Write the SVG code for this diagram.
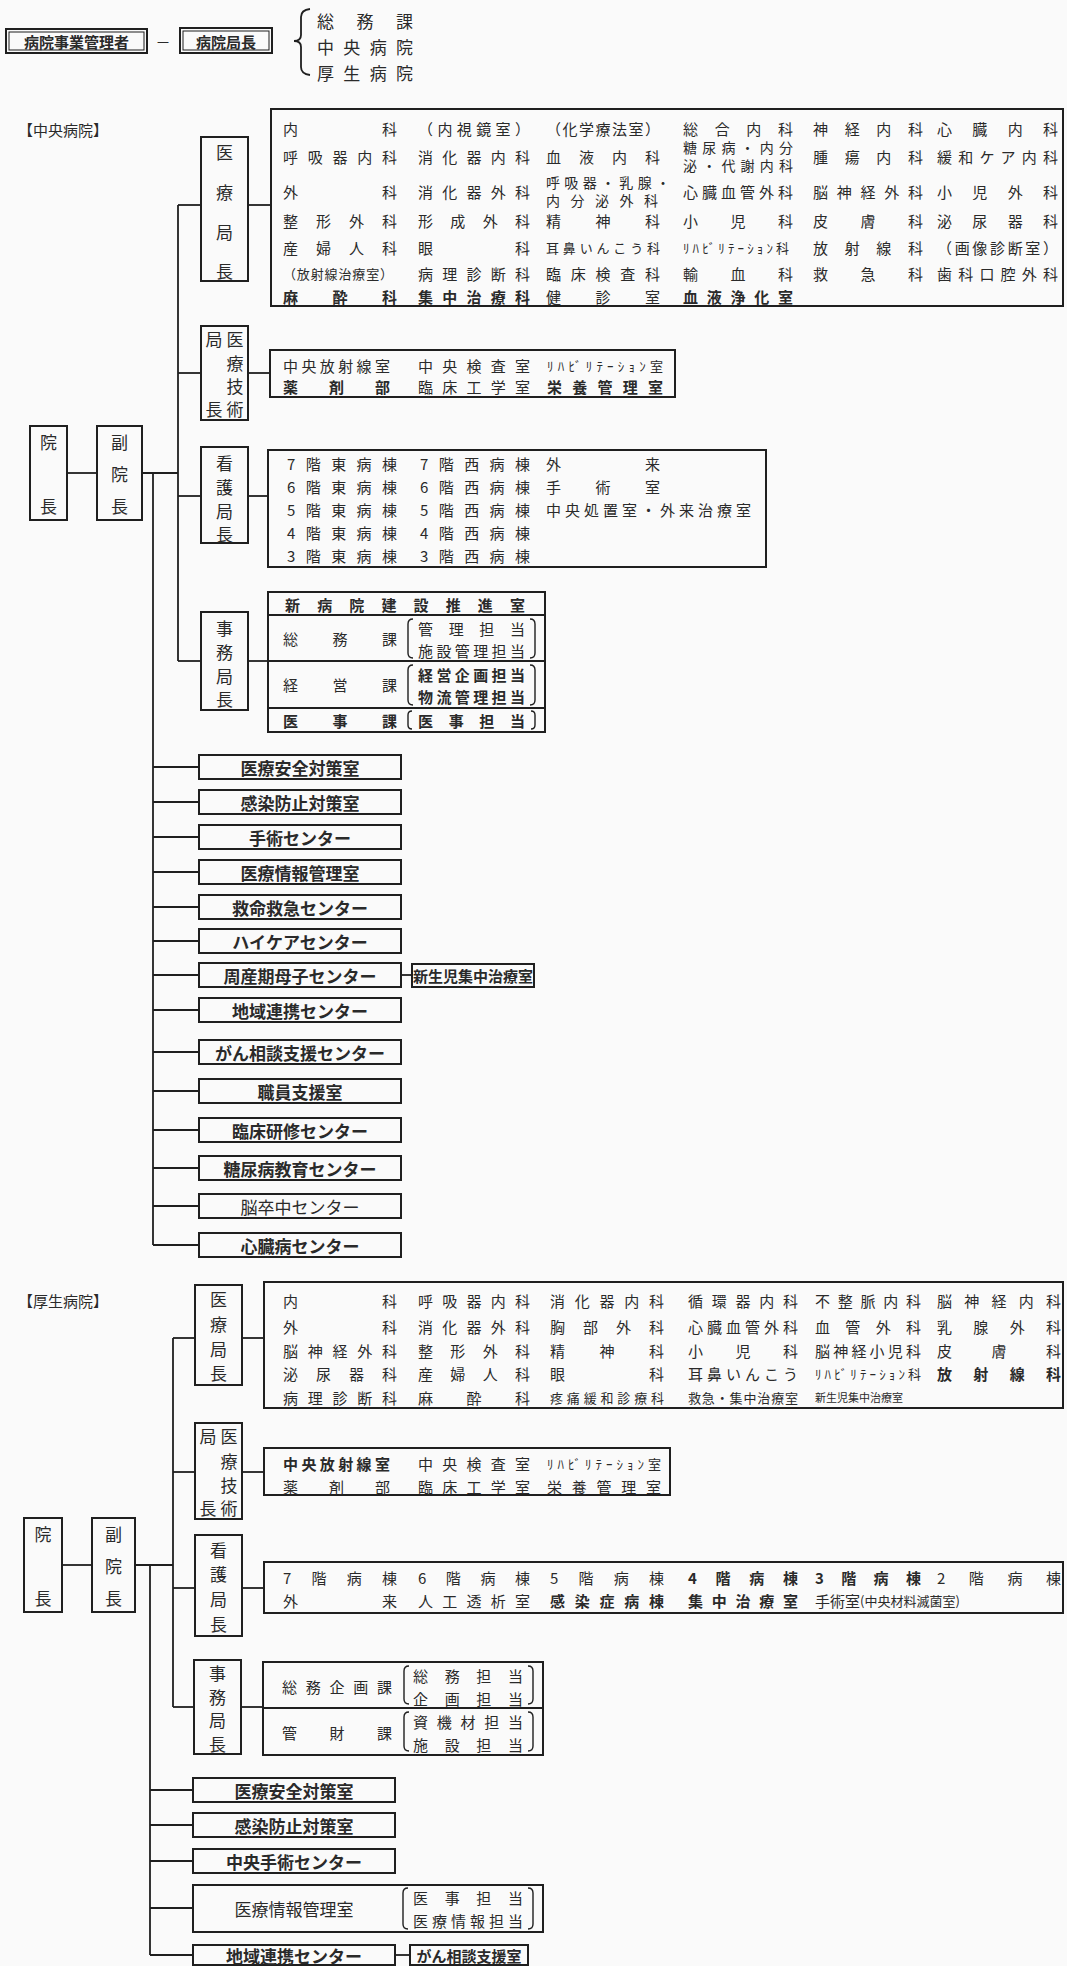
<svg xmlns="http://www.w3.org/2000/svg" width="1067" height="1966" viewBox="0 0 1067 1966">
<style>
.bx{fill:none;stroke:#1f1f1f;stroke-width:2}
.in{fill:none;stroke:#1f1f1f;stroke-width:1}
.ln{fill:none;stroke:#1f1f1f;stroke-width:1.8}
.br{fill:none;stroke:#1f1f1f;stroke-width:1.4}
text{font-family:"Noto Sans CJK JP","Noto Sans CJK SC",sans-serif;font-size:15px;fill:#2a2a2a;dominant-baseline:central}
.v{font-size:17px;text-anchor:middle}
.m{text-anchor:middle}
.s{font-size:13px}
.s14{font-size:14px}
.xs{font-size:11px}
.bd{font-weight:bold}
.L{font-size:17px;text-anchor:middle;font-weight:bold}
.h{font-size:17px}
</style>
<rect x="0" y="0" width="1067" height="1966" fill="#fafafa"/>

<!-- header -->
<g id="hdr-kanrisha">
<rect class="bx" x="6" y="29" width="141" height="24"/>
<rect class="in" x="9" y="32" width="135" height="18"/>
<text class="m bd" x="76.5" y="41" font-size="17">病院事業管理者</text>
</g>
<text class="m" x="163" y="41">－</text>
<g id="hdr-kyokucho">
<rect class="bx" x="180" y="28" width="92" height="25"/>
<rect class="in" x="183" y="31" width="86" height="19"/>
<text class="m bd" x="226" y="41" font-size="17">病院局長</text>
</g>
<g id="hdr-list">
<path class="ln" d="M310,9 Q301,10 301,17 L301,35 Q301,41 294,41 Q301,41 301,47 L301,67 Q301,74 310,75"/>
<text class="h" x="317" y="20" textLength="96" lengthAdjust="spacing">総務課</text>
<text class="h" x="317" y="46" textLength="96" lengthAdjust="spacing">中央病院</text>
<text class="h" x="317" y="72" textLength="96" lengthAdjust="spacing">厚生病院</text>
</g>

<!-- ============ 中央病院 ============ -->
<text x="18" y="129" font-size="16">【中央病院】</text>

<g id="connectors-chuo">
<line class="ln" x1="67" y1="473" x2="97" y2="473"/>
<line class="ln" x1="142" y1="473" x2="178" y2="473"/>
<line class="ln" x1="178" y1="205" x2="178" y2="661"/>
<line class="ln" x1="153" y1="473" x2="153" y2="1245"/>
<line class="ln" x1="178" y1="205" x2="201" y2="205"/>
<line class="ln" x1="248" y1="205" x2="271" y2="205"/>
<line class="ln" x1="178" y1="373" x2="201" y2="373"/>
<line class="ln" x1="248" y1="373" x2="270" y2="373"/>
<line class="ln" x1="178" y1="496" x2="201" y2="496"/>
<line class="ln" x1="248" y1="496" x2="268" y2="496"/>
<line class="ln" x1="178" y1="661" x2="201" y2="661"/>
<line class="ln" x1="248" y1="661" x2="268" y2="661"/>
<line class="ln" x1="153" y1="767" x2="199" y2="767"/>
<line class="ln" x1="153" y1="802" x2="199" y2="802"/>
<line class="ln" x1="153" y1="837" x2="199" y2="837"/>
<line class="ln" x1="153" y1="872" x2="199" y2="872"/>
<line class="ln" x1="153" y1="907" x2="199" y2="907"/>
<line class="ln" x1="153" y1="941" x2="199" y2="941"/>
<line class="ln" x1="153" y1="975" x2="199" y2="975"/>
<line class="ln" x1="401" y1="975" x2="412" y2="975"/>
<line class="ln" x1="153" y1="1010" x2="199" y2="1010"/>
<line class="ln" x1="153" y1="1052" x2="199" y2="1052"/>
<line class="ln" x1="153" y1="1091" x2="199" y2="1091"/>
<line class="ln" x1="153" y1="1130" x2="199" y2="1130"/>
<line class="ln" x1="153" y1="1168" x2="199" y2="1168"/>
<line class="ln" x1="153" y1="1206" x2="199" y2="1206"/>
<line class="ln" x1="153" y1="1245" x2="199" y2="1245"/>
</g>

<g id="c-incho">
<rect class="bx" x="30" y="426" width="37" height="94"/>
<text class="v" x="48.5" y="441">院</text>
<text class="v" x="48.5" y="505">長</text>
</g>
<g id="c-fukuincho">
<rect class="bx" x="97" y="426" width="45" height="94"/>
<text class="v" x="119.5" y="441">副</text>
<text class="v" x="119.5" y="473">院</text>
<text class="v" x="119.5" y="505">長</text>
</g>

<g id="c-iryokyokucho">
<rect class="bx" x="201" y="137" width="47" height="144"/>
<text class="v" x="224.5" y="151">医</text>
<text class="v" x="224.5" y="191">療</text>
<text class="v" x="224.5" y="231">局</text>
<text class="v" x="224.5" y="270">長</text>
</g>
<g id="c-iryo-grid">
<rect class="bx" x="271" y="109" width="792" height="197"/>
<text x="283" y="128" textLength="114" lengthAdjust="spacing">内科</text>
<text x="418" y="128" textLength="112" lengthAdjust="spacing">（内視鏡室）</text>
<text x="546" y="128" textLength="114" lengthAdjust="spacing">（化学療法室）</text>
<text x="683" y="128" textLength="110" lengthAdjust="spacing">総合内科</text>
<text x="813" y="128" textLength="110" lengthAdjust="spacing">神経内科</text>
<text x="937" y="128" textLength="121" lengthAdjust="spacing">心臓内科</text>

<text x="283" y="156" textLength="114" lengthAdjust="spacing">呼吸器内科</text>
<text x="418" y="156" textLength="112" lengthAdjust="spacing">消化器内科</text>
<text x="546" y="156" textLength="114" lengthAdjust="spacing">血液内科</text>
<text class="s14" x="683" y="147" textLength="110" lengthAdjust="spacing">糖尿病・内分</text>
<text class="s14" x="683" y="165" textLength="110" lengthAdjust="spacing">泌・代謝内科</text>
<text x="813" y="156" textLength="110" lengthAdjust="spacing">腫瘍内科</text>
<text x="937" y="156" textLength="121" lengthAdjust="spacing">緩和ケア内科</text>

<text x="283" y="191" textLength="114" lengthAdjust="spacing">外科</text>
<text x="418" y="191" textLength="112" lengthAdjust="spacing">消化器外科</text>
<text class="s14" x="546" y="182" textLength="124" lengthAdjust="spacing">呼吸器・乳腺・</text>
<text class="s14" x="546" y="200" textLength="112" lengthAdjust="spacing">内分泌外科</text>
<text x="683" y="191" textLength="110" lengthAdjust="spacing">心臓血管外科</text>
<text x="813" y="191" textLength="110" lengthAdjust="spacing">脳神経外科</text>
<text x="937" y="191" textLength="121" lengthAdjust="spacing">小児外科</text>

<text x="283" y="220" textLength="114" lengthAdjust="spacing">整形外科</text>
<text x="418" y="220" textLength="112" lengthAdjust="spacing">形成外科</text>
<text x="546" y="220" textLength="114" lengthAdjust="spacing">精神科</text>
<text x="683" y="220" textLength="110" lengthAdjust="spacing">小児科</text>
<text x="813" y="220" textLength="110" lengthAdjust="spacing">皮膚科</text>
<text x="937" y="220" textLength="121" lengthAdjust="spacing">泌尿器科</text>

<text x="283" y="247" textLength="114" lengthAdjust="spacing">産婦人科</text>
<text x="418" y="247" textLength="112" lengthAdjust="spacing">眼科</text>
<text class="s" x="546" y="247" textLength="114" lengthAdjust="spacing">耳鼻いんこう科</text>
<text class="s" x="683" y="247" textLength="106" lengthAdjust="spacing">ﾘﾊﾋﾞﾘﾃｰｼｮﾝ科</text>
<text x="813" y="247" textLength="110" lengthAdjust="spacing">放射線科</text>
<text x="937" y="247" textLength="121" lengthAdjust="spacing">（画像診断室）</text>

<text class="s" x="283" y="273" textLength="110" lengthAdjust="spacing">（放射線治療室）</text>
<text x="418" y="273" textLength="112" lengthAdjust="spacing">病理診断科</text>
<text x="546" y="273" textLength="114" lengthAdjust="spacing">臨床検査科</text>
<text x="683" y="273" textLength="110" lengthAdjust="spacing">輸血科</text>
<text x="813" y="273" textLength="110" lengthAdjust="spacing">救急科</text>
<text x="937" y="273" textLength="121" lengthAdjust="spacing">歯科口腔外科</text>

<text class="bd" x="283" y="296" textLength="114" lengthAdjust="spacing">麻酔科</text>
<text class="bd" x="418" y="296" textLength="112" lengthAdjust="spacing">集中治療科</text>
<text x="546" y="296" textLength="114" lengthAdjust="spacing">健診室</text>
<text class="bd" x="683" y="296" textLength="110" lengthAdjust="spacing">血液浄化室</text>
</g>

<g id="c-gijutsukyokucho">
<rect class="bx" x="201" y="326" width="47" height="94"/>
<text class="v" x="214" y="338">局</text>
<text class="v" x="235" y="338">医</text>
<text class="v" x="235" y="362">療</text>
<text class="v" x="235" y="385">技</text>
<text class="v" x="214" y="408">長</text>
<text class="v" x="235" y="408">術</text>
</g>
<g id="c-gijutsu-grid">
<rect class="bx" x="270" y="350" width="405" height="47"/>
<text x="283" y="365" textLength="107" lengthAdjust="spacing">中央放射線室</text>
<text x="418" y="365" textLength="112" lengthAdjust="spacing">中央検査室</text>
<text class="s" x="547" y="365" textLength="116" lengthAdjust="spacing">ﾘﾊﾋﾞﾘﾃｰｼｮﾝ室</text>
<text class="bd" x="283" y="386" textLength="107" lengthAdjust="spacing">薬剤部</text>
<text x="418" y="386" textLength="112" lengthAdjust="spacing">臨床工学室</text>
<text class="bd" x="547" y="386" textLength="116" lengthAdjust="spacing">栄養管理室</text>
</g>

<g id="c-kangokyokucho">
<rect class="bx" x="201" y="447" width="47" height="96"/>
<text class="v" x="224.5" y="462">看</text>
<text class="v" x="224.5" y="486">護</text>
<text class="v" x="224.5" y="510">局</text>
<text class="v" x="224.5" y="533">長</text>
</g>
<g id="c-kango-grid">
<rect class="bx" x="268" y="450" width="498" height="117"/>
<text x="287" y="463" textLength="110" lengthAdjust="spacing">7階東病棟</text>
<text x="420" y="463" textLength="110" lengthAdjust="spacing">7階西病棟</text>
<text x="546" y="463" textLength="114" lengthAdjust="spacing">外来</text>
<text x="287" y="486" textLength="110" lengthAdjust="spacing">6階東病棟</text>
<text x="420" y="486" textLength="110" lengthAdjust="spacing">6階西病棟</text>
<text x="546" y="486" textLength="114" lengthAdjust="spacing">手術室</text>
<text x="287" y="509" textLength="110" lengthAdjust="spacing">5階東病棟</text>
<text x="420" y="509" textLength="110" lengthAdjust="spacing">5階西病棟</text>
<text x="546" y="509" textLength="205" lengthAdjust="spacing">中央処置室・外来治療室</text>
<text x="287" y="532" textLength="110" lengthAdjust="spacing">4階東病棟</text>
<text x="420" y="532" textLength="110" lengthAdjust="spacing">4階西病棟</text>
<text x="287" y="555" textLength="110" lengthAdjust="spacing">3階東病棟</text>
<text x="420" y="555" textLength="110" lengthAdjust="spacing">3階西病棟</text>
</g>

<g id="c-jimukyokucho">
<rect class="bx" x="201" y="612" width="47" height="98"/>
<text class="v" x="224.5" y="627">事</text>
<text class="v" x="224.5" y="651">務</text>
<text class="v" x="224.5" y="675">局</text>
<text class="v" x="224.5" y="698">長</text>
</g>
<g id="c-jimu-grid">
<rect class="bx" x="268" y="592" width="277" height="140"/>
<line class="ln" x1="268" y1="615" x2="545" y2="615"/>
<line class="ln" x1="268" y1="661" x2="545" y2="661"/>
<line class="ln" x1="268" y1="708" x2="545" y2="708"/>
<text class="bd" x="285" y="604" textLength="240" lengthAdjust="spacing">新病院建設推進室</text>
<text x="283" y="638" textLength="114" lengthAdjust="spacing">総務課</text>
<path class="br" d="M413,619 Q408,619 408,624 L408,653 Q408,658 413,658"/>
<path class="br" d="M530,619 Q535,619 535,624 L535,653 Q535,658 530,658"/>
<text x="418" y="628" textLength="107" lengthAdjust="spacing">管理担当</text>
<text x="418" y="650" textLength="107" lengthAdjust="spacing">施設管理担当</text>
<text x="283" y="684" textLength="114" lengthAdjust="spacing">経営課</text>
<path class="br" d="M413,665 Q408,665 408,670 L408,700 Q408,705 413,705"/>
<path class="br" d="M530,665 Q535,665 535,670 L535,700 Q535,705 530,705"/>
<text class="bd" x="418" y="674" textLength="107" lengthAdjust="spacing">経営企画担当</text>
<text class="bd" x="418" y="696" textLength="107" lengthAdjust="spacing">物流管理担当</text>
<text class="bd" x="283" y="720" textLength="114" lengthAdjust="spacing">医事課</text>
<path class="br" d="M412,711 Q408,711 408,715 L408,725 Q408,729 412,729"/>
<path class="br" d="M531,711 Q535,711 535,715 L535,725 Q535,729 531,729"/>
<text class="bd" x="418" y="720" textLength="107" lengthAdjust="spacing">医事担当</text>
</g>

<g id="c-anzen"><rect class="bx" x="199" y="755" width="202" height="24"/><text class="L" x="300" y="767">医療安全対策室</text></g>
<g id="c-kansen"><rect class="bx" x="199" y="790" width="202" height="24"/><text class="L" x="300" y="802">感染防止対策室</text></g>
<g id="c-shujutsu"><rect class="bx" x="199" y="825" width="202" height="24"/><text class="L" x="300" y="837">手術センター</text></g>
<g id="c-joho"><rect class="bx" x="199" y="860" width="202" height="24"/><text class="L" x="300" y="872">医療情報管理室</text></g>
<g id="c-kyumei"><rect class="bx" x="199" y="895" width="202" height="24"/><text class="L" x="300" y="907">救命救急センター</text></g>
<g id="c-highcare"><rect class="bx" x="199" y="929" width="202" height="24"/><text class="L" x="300" y="941">ハイケアセンター</text></g>
<g id="c-shusanki"><rect class="bx" x="199" y="963" width="202" height="24"/><text class="L" x="300" y="975">周産期母子センター</text></g>
<g id="c-nicu"><rect class="bx" x="412" y="964" width="122" height="23"/><text class="bd m" x="473" y="975.5" font-size="11.5">新生児集中治療室</text></g>
<g id="c-chiiki"><rect class="bx" x="199" y="998" width="202" height="24"/><text class="L" x="300" y="1010">地域連携センター</text></g>
<g id="c-gan"><rect class="bx" x="199" y="1040" width="202" height="24"/><text class="L" x="300" y="1052">がん相談支援センター</text></g>
<g id="c-shokuin"><rect class="bx" x="199" y="1079" width="202" height="24"/><text class="L" x="300" y="1091">職員支援室</text></g>
<g id="c-rinsho"><rect class="bx" x="199" y="1118" width="202" height="24"/><text class="L" x="300" y="1130">臨床研修センター</text></g>
<g id="c-tonyo"><rect class="bx" x="199" y="1156" width="202" height="24"/><text class="L" x="300" y="1168">糖尿病教育センター</text></g>
<g id="c-nosotchu"><rect class="bx" x="199" y="1194" width="202" height="24"/><text class="v" x="300" y="1206">脳卒中センター</text></g>
<g id="c-shinzo"><rect class="bx" x="199" y="1233" width="202" height="24"/><text class="L" x="300" y="1245">心臓病センター</text></g>

<!-- ============ 厚生病院 ============ -->
<text x="18" y="1300" font-size="16">【厚生病院】</text>

<g id="connectors-kosei">
<line class="ln" x1="62" y1="1565" x2="92" y2="1565"/>
<line class="ln" x1="135" y1="1565" x2="173" y2="1565"/>
<line class="ln" x1="173" y1="1338" x2="173" y2="1707"/>
<line class="ln" x1="150" y1="1565" x2="150" y2="1955"/>
<line class="ln" x1="173" y1="1338" x2="195" y2="1338"/>
<line class="ln" x1="242" y1="1338" x2="264" y2="1338"/>
<line class="ln" x1="173" y1="1472" x2="195" y2="1472"/>
<line class="ln" x1="242" y1="1472" x2="264" y2="1472"/>
<line class="ln" x1="173" y1="1588" x2="195" y2="1588"/>
<line class="ln" x1="242" y1="1588" x2="264" y2="1588"/>
<line class="ln" x1="173" y1="1707" x2="194" y2="1707"/>
<line class="ln" x1="241" y1="1707" x2="263" y2="1707"/>
<line class="ln" x1="150" y1="1790" x2="193" y2="1790"/>
<line class="ln" x1="150" y1="1825" x2="193" y2="1825"/>
<line class="ln" x1="150" y1="1861" x2="193" y2="1861"/>
<line class="ln" x1="150" y1="1908" x2="193" y2="1908"/>
<line class="ln" x1="150" y1="1955" x2="193" y2="1955"/>
<line class="ln" x1="395" y1="1955" x2="410" y2="1955"/>
</g>

<g id="k-incho">
<rect class="bx" x="24" y="1518" width="38" height="94"/>
<text class="v" x="43" y="1533">院</text>
<text class="v" x="43" y="1597">長</text>
</g>
<g id="k-fukuincho">
<rect class="bx" x="92" y="1518" width="43" height="94"/>
<text class="v" x="113.5" y="1533">副</text>
<text class="v" x="113.5" y="1565">院</text>
<text class="v" x="113.5" y="1597">長</text>
</g>

<g id="k-iryokyokucho">
<rect class="bx" x="195" y="1285" width="47" height="100"/>
<text class="v" x="218.5" y="1298">医</text>
<text class="v" x="218.5" y="1323">療</text>
<text class="v" x="218.5" y="1348">局</text>
<text class="v" x="218.5" y="1372">長</text>
</g>
<g id="k-iryo-grid">
<rect class="bx" x="264" y="1282" width="799" height="126"/>
<text x="283" y="1300" textLength="114" lengthAdjust="spacing">内科</text>
<text x="418" y="1300" textLength="112" lengthAdjust="spacing">呼吸器内科</text>
<text x="550" y="1300" textLength="114" lengthAdjust="spacing">消化器内科</text>
<text x="688" y="1300" textLength="110" lengthAdjust="spacing">循環器内科</text>
<text x="815" y="1300" textLength="106" lengthAdjust="spacing">不整脈内科</text>
<text x="937" y="1300" textLength="124" lengthAdjust="spacing">脳神経内科</text>

<text x="283" y="1326" textLength="114" lengthAdjust="spacing">外科</text>
<text x="418" y="1326" textLength="112" lengthAdjust="spacing">消化器外科</text>
<text x="550" y="1326" textLength="114" lengthAdjust="spacing">胸部外科</text>
<text x="688" y="1326" textLength="110" lengthAdjust="spacing">心臓血管外科</text>
<text x="815" y="1326" textLength="106" lengthAdjust="spacing">血管外科</text>
<text x="937" y="1326" textLength="124" lengthAdjust="spacing">乳腺外科</text>

<text x="283" y="1350" textLength="114" lengthAdjust="spacing">脳神経外科</text>
<text x="418" y="1350" textLength="112" lengthAdjust="spacing">整形外科</text>
<text x="550" y="1350" textLength="114" lengthAdjust="spacing">精神科</text>
<text x="688" y="1350" textLength="110" lengthAdjust="spacing">小児科</text>
<text x="815" y="1350" textLength="106" lengthAdjust="spacing">脳神経小児科</text>
<text x="937" y="1350" textLength="124" lengthAdjust="spacing">皮膚科</text>

<text x="283" y="1373" textLength="114" lengthAdjust="spacing">泌尿器科</text>
<text x="418" y="1373" textLength="112" lengthAdjust="spacing">産婦人科</text>
<text x="550" y="1373" textLength="114" lengthAdjust="spacing">眼科</text>
<text x="688" y="1373" textLength="110" lengthAdjust="spacing">耳鼻いんこう</text>
<text class="s" x="815" y="1373" textLength="106" lengthAdjust="spacing">ﾘﾊﾋﾞﾘﾃｰｼｮﾝ科</text>
<text class="bd" x="937" y="1373" textLength="124" lengthAdjust="spacing">放射線科</text>

<text x="283" y="1397" textLength="114" lengthAdjust="spacing">病理診断科</text>
<text x="418" y="1397" textLength="112" lengthAdjust="spacing">麻酔科</text>
<text class="s" x="550" y="1397" textLength="114" lengthAdjust="spacing">疼痛緩和診療科</text>
<text class="s" x="688" y="1397" textLength="110" lengthAdjust="spacing">救急・集中治療室</text>
<text class="xs" x="815" y="1397">新生児集中治療室</text>
</g>

<g id="k-gijutsukyokucho">
<rect class="bx" x="195" y="1423" width="47" height="96"/>
<text class="v" x="208" y="1435">局</text>
<text class="v" x="229" y="1435">医</text>
<text class="v" x="229" y="1460">療</text>
<text class="v" x="229" y="1484">技</text>
<text class="v" x="208" y="1507">長</text>
<text class="v" x="229" y="1507">術</text>
</g>
<g id="k-gijutsu-grid">
<rect class="bx" x="264" y="1448" width="406" height="47"/>
<text class="bd" x="283" y="1463" textLength="107" lengthAdjust="spacing">中央放射線室</text>
<text x="418" y="1463" textLength="112" lengthAdjust="spacing">中央検査室</text>
<text class="s" x="547" y="1463" textLength="114" lengthAdjust="spacing">ﾘﾊﾋﾞﾘﾃｰｼｮﾝ室</text>
<text x="283" y="1486" textLength="107" lengthAdjust="spacing">薬剤部</text>
<text x="418" y="1486" textLength="112" lengthAdjust="spacing">臨床工学室</text>
<text x="547" y="1486" textLength="114" lengthAdjust="spacing">栄養管理室</text>
</g>

<g id="k-kangokyokucho">
<rect class="bx" x="195" y="1535" width="47" height="101"/>
<text class="v" x="218.5" y="1549">看</text>
<text class="v" x="218.5" y="1573">護</text>
<text class="v" x="218.5" y="1598">局</text>
<text class="v" x="218.5" y="1623">長</text>
</g>
<g id="k-kango-grid">
<rect class="bx" x="264" y="1562" width="799" height="51"/>
<text x="283" y="1577" textLength="114" lengthAdjust="spacing">7階病棟</text>
<text x="418" y="1577" textLength="112" lengthAdjust="spacing">6階病棟</text>
<text x="550" y="1577" textLength="114" lengthAdjust="spacing">5階病棟</text>
<text class="bd" x="688" y="1577" textLength="110" lengthAdjust="spacing">4階病棟</text>
<text class="bd" x="815" y="1577" textLength="106" lengthAdjust="spacing">3階病棟</text>
<text x="937" y="1577" textLength="124" lengthAdjust="spacing">2階病棟</text>
<text x="283" y="1600" textLength="114" lengthAdjust="spacing">外来</text>
<text x="418" y="1600" textLength="112" lengthAdjust="spacing">人工透析室</text>
<text class="bd" x="550" y="1600" textLength="114" lengthAdjust="spacing">感染症病棟</text>
<text class="bd" x="688" y="1600" textLength="110" lengthAdjust="spacing">集中治療室</text>
<text x="815" y="1600">手術室<tspan class="s">(中央材料滅菌室)</tspan></text>
</g>

<g id="k-jimukyokucho">
<rect class="bx" x="194" y="1660" width="47" height="94"/>
<text class="v" x="217.5" y="1672">事</text>
<text class="v" x="217.5" y="1696">務</text>
<text class="v" x="217.5" y="1719">局</text>
<text class="v" x="217.5" y="1743">長</text>
</g>
<g id="k-jimu-grid">
<rect class="bx" x="263" y="1662" width="280" height="93"/>
<line class="ln" x1="263" y1="1708" x2="543" y2="1708"/>
<text x="282" y="1686" textLength="110" lengthAdjust="spacing">総務企画課</text>
<path class="br" d="M409,1666 Q404,1666 404,1671 L404,1699 Q404,1704 409,1704"/>
<path class="br" d="M528,1666 Q533,1666 533,1671 L533,1699 Q533,1704 528,1704"/>
<text x="413" y="1675" textLength="110" lengthAdjust="spacing">総務担当</text>
<text x="413" y="1698" textLength="110" lengthAdjust="spacing">企画担当</text>
<text x="282" y="1732" textLength="110" lengthAdjust="spacing">管財課</text>
<path class="br" d="M409,1712 Q404,1712 404,1717 L404,1746 Q404,1751 409,1751"/>
<path class="br" d="M528,1712 Q533,1712 533,1717 L533,1746 Q533,1751 528,1751"/>
<text x="413" y="1721" textLength="110" lengthAdjust="spacing">資機材担当</text>
<text x="413" y="1744" textLength="110" lengthAdjust="spacing">施設担当</text>
</g>

<g id="k-anzen"><rect class="bx" x="193" y="1778" width="202" height="24"/><text class="L" x="294" y="1790">医療安全対策室</text></g>
<g id="k-kansen"><rect class="bx" x="193" y="1813" width="202" height="24"/><text class="L" x="294" y="1825">感染防止対策室</text></g>
<g id="k-shujutsu"><rect class="bx" x="193" y="1849" width="202" height="24"/><text class="L" x="294" y="1861">中央手術センター</text></g>
<g id="k-joho">
<rect class="bx" x="193" y="1885" width="350" height="47"/>
<text class="v" x="294" y="1908">医療情報管理室</text>
<path class="br" d="M408,1888 Q403,1888 403,1893 L403,1924 Q403,1929 408,1929"/>
<path class="br" d="M528,1888 Q533,1888 533,1893 L533,1924 Q533,1929 528,1929"/>
<text x="413" y="1897" textLength="110" lengthAdjust="spacing">医事担当</text>
<text x="413" y="1920" textLength="110" lengthAdjust="spacing">医療情報担当</text>
</g>
<g id="k-chiiki"><rect class="bx" x="193" y="1945" width="202" height="20"/><text class="L" x="294" y="1955">地域連携センター</text></g>
<g id="k-gan"><rect class="bx" x="410" y="1945" width="118" height="20"/><text class="m bd" x="469" y="1955" font-size="15">がん相談支援室</text></g>
</svg>
